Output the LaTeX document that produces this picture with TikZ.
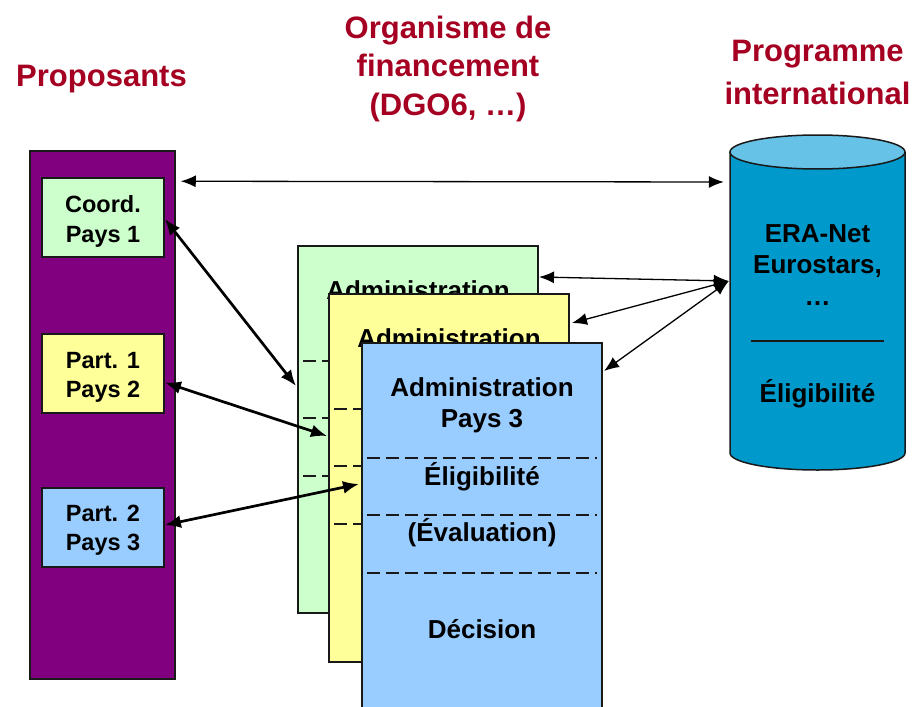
\documentclass[tikz,border=0pt]{standalone}
\usepackage{fontspec}
\setmainfont{Liberation Sans}
\usetikzlibrary{arrows.meta,calc}
\definecolor{hred}{RGB}{165,0,33}
\definecolor{purp}{RGB}{128,0,128}
\definecolor{pgreen}{RGB}{204,255,204}
\definecolor{pyellow}{RGB}{255,255,153}
\definecolor{pblue}{RGB}{153,204,255}
\definecolor{cylbody}{RGB}{0,153,204}
\definecolor{cyltop}{RGB}{102,194,230}
\definecolor{edge}{RGB}{25,25,25}
\begin{document}
\begin{tikzpicture}[x=1pt,y=-1pt,
  head/.style={anchor=base, inner sep=0pt, text=hred, font=\bfseries\fontsize{31}{39}\selectfont},
  btxt/.style={anchor=base, inner sep=0pt, font=\bfseries\fontsize{23.5}{29}\selectfont},
  ptxt/.style={anchor=base, inner sep=0pt, font=\bfseries\fontsize{26}{31}\selectfont},
  colbox/.style={draw=edge, line width=1.5pt, fill=purp, minimum width=145pt, minimum height=528pt, inner sep=0pt},
  pbox/.style={draw=edge, line width=1.8pt, minimum width=122pt, minimum height=79pt, inner sep=0pt},
  page/.style={draw=edge, line width=2pt, minimum width=240pt, inner sep=0pt},
  sep/.style={draw=edge, line width=1.3pt, dash pattern=on 13pt off 6pt},
  thinarr/.style={line width=1.3pt, {Latex[length=15pt,width=12pt]}-{Latex[length=15pt,width=12pt]}},
  thickarr/.style={line width=2.7pt, {Latex[length=16pt,width=13pt]}-{Latex[length=16pt,width=13pt]}}
]
\clip (0,0) rectangle (917,706);
\fill[white] (0,0) rectangle (917,706);

% headings
\node[head] (hprop) at (101.5,87) {Proposants};
\node[head] (horg1) at (448,39) {Organisme de};
\node[head] (horg2) at (448,77) {financement};
\node[head] (horg3) at (448,116) {(DGO6, …)};
\node[head] (hprog1) at (817.5,62) {Programme};
\node[head] (hprog2) at (817.5,105) {international};

% proposants column
\node[colbox] (col) at (102.5,415) {};
\node[pbox, fill=pgreen] (c1) at (103,217.5) {};
\node[btxt] (c1a) at (103,212) {Coord.};
\node[btxt] (c1b) at (103,242) {Pays 1};
\node[pbox, fill=pyellow] (p1) at (103,373.5) {};
\node[btxt] (p1a) at (103,368) {Part. 1};
\node[btxt] (p1b) at (103,397) {Pays 2};
\node[pbox, fill=pblue] (p2) at (103,527.5) {};
\node[btxt] (p2a) at (103,521) {Part. 2};
\node[btxt] (p2b) at (103,550) {Pays 3};

% green page
\node[page, fill=pgreen, minimum height=367pt] (pg) at (418,429.5) {};
\node[ptxt] (pga) at (418,299) {Administration};
\draw[sep] (303,361) -- (533,361);
\draw[sep] (303,418) -- (533,418);
\draw[sep] (303,476) -- (533,476);

% yellow page
\node[page, fill=pyellow, minimum height=368pt] (py) at (449,478) {};
\node[ptxt] (pya) at (449,347) {Administration};
\draw[sep] (334,409) -- (564,409);
\draw[sep] (334,466) -- (564,466);
\draw[sep] (334,524) -- (564,524);

% blue page
\node[page, fill=pblue, minimum height=377pt] (pb) at (482,531.5) {};
\node[ptxt] (pba) at (482,396) {Administration};
\node[ptxt] (pbb) at (482,427) {Pays 3};
\draw[sep] (367,458) -- (597,458);
\node[ptxt] (pbc) at (482,485) {Éligibilité};
\draw[sep] (367,515) -- (597,515);
\node[ptxt] (pbd) at (482,541) {(Évaluation)};
\draw[sep] (367,573) -- (597,573);
\node[ptxt] (pbe) at (482,638) {Décision};

% cylinder
\fill[cylbody] (730,152) -- (730,453) arc[start angle=180, end angle=0, x radius=87.5, y radius=17] -- (905,152) -- cycle;
\draw[edge, line width=1.5pt] (730,152) -- (730,453) arc[start angle=180, end angle=0, x radius=87.5, y radius=17] -- (905,152);
\draw[edge, line width=1.5pt, fill=cyltop] (817.5,152) ellipse[x radius=87.5, y radius=17];
\node[inner sep=0pt, minimum width=175pt, minimum height=335pt] (cyl) at (817.5,302.5) {};
\node[ptxt] (cya) at (817.5,242) {ERA-Net};
\node[ptxt] (cyb) at (817.5,273) {Eurostars,};
\node[ptxt] (cyc) at (817.5,305) {…};
\draw[edge, line width=1.5pt] (751,341) -- (884,341);
\node[ptxt] (cyd) at (817.5,402) {Éligibilité};

% connectors
\coordinate (hub) at ($(cyl.west)+(-1,-21.5)$);
\draw[thinarr] ($(col.north east)+(5,31)$) -- ($(cyl.west |- 0,182)+(-6,0)$);
\draw[thinarr] ($(pg.north east)+(0,32)$) -- (hub);
\draw[thinarr] ($(py.north east)+(2,30)$) -- (hub);
\draw[thinarr] ($(pb.north east)+(1,29)$) -- (hub);

\draw[thickarr] ($(c1.east)+(0,1.5)$) -- ($(pg.north west)+(-1,141)$);
\draw[thickarr] ($(p1.east)+(0,9)$) -- ($(py.north west)+(-1,143)$);
\draw[thickarr] ($(p2.east)+(0,-2.5)$) -- ($(pb.north west)+(-2,142)$);
\end{tikzpicture}
\end{document}
